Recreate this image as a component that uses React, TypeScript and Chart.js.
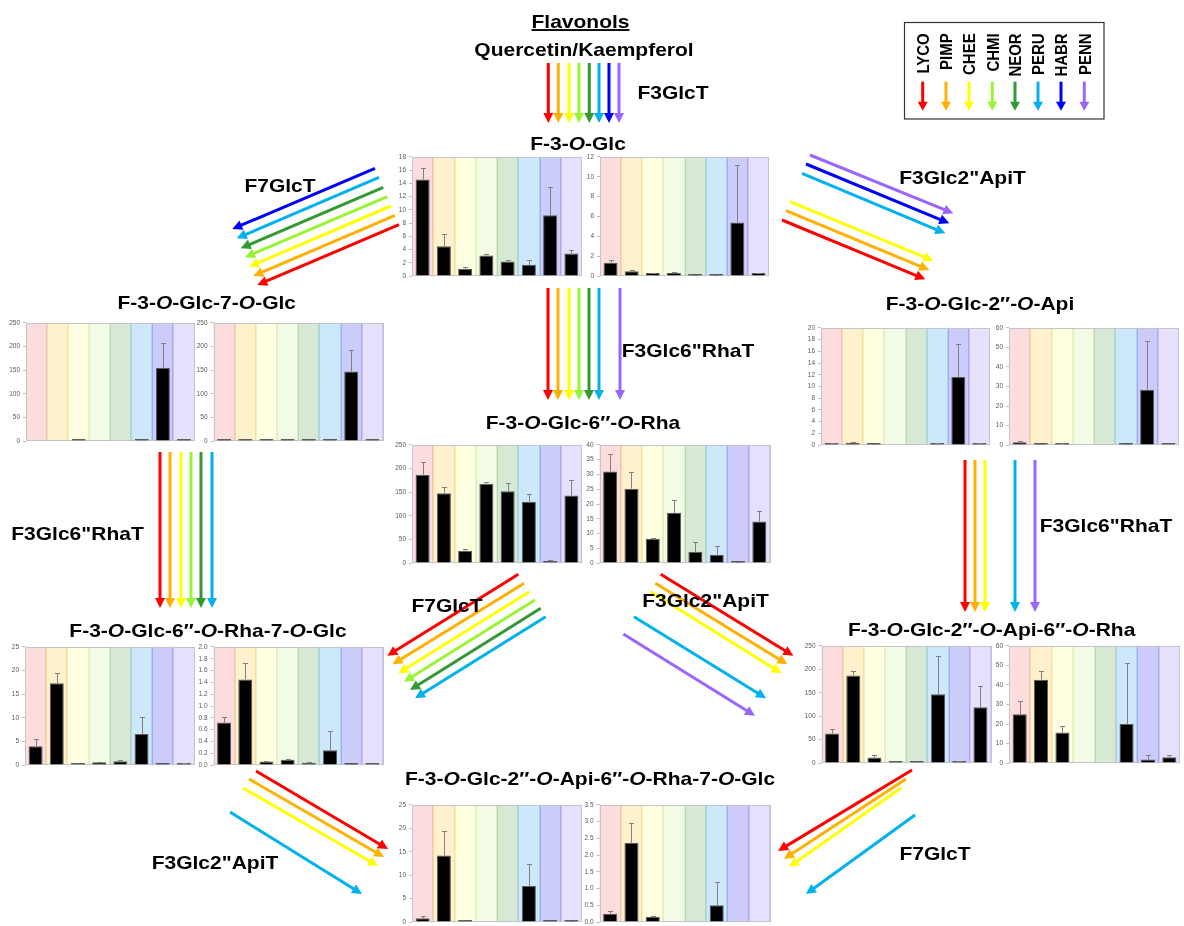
import React, { useEffect, useRef } from "react";
import { Chart, registerables } from "chart.js";
Chart.register(...registerables);

// ---------- data ----------
const strains = ["LYCO", "PIMP", "CHEE", "CHMI", "NEOR", "PERU", "HABR", "PENN"];

const glcA = [14.6, 4.5, 1.1, 3.1, 2.2, 1.7, 9.2, 3.4];
const glcASd = [1.7, 1.8, 0.2, 0.3, 0.3, 0.8, 4.2, 0.5];
const glcB = [1.35, 0.5, 0.3, 0.3, 0.1, 0.05, 5.4, 0.3];
const glcBSd = [0.3, 0.08, 0.06, 0.07, 0.02, 0.03, 5.8, 0.06];

const glc7A = [0, 0, 1, 0, 0, 1, 155, 1];
const glc7ASd = [0, 0, 0, 0, 0, 0, 52, 0];
const glc7B = [1, 1, 1, 1, 1, 1, 147, 1];
const glc7BSd = [0, 0, 0, 0, 0, 0, 46, 0];

const apiA = [0.25, 0.4, 0.1, 0, 0, 0.25, 11.6, 0.25];
const apiASd = [0.05, 0.05, 0.05, 0, 0, 0.15, 5.7, 0.05];
const apiB = [1.5, 0.6, 0.9, 0, 0, 0.3, 28.3, 0.1];
const apiBSd = [0.5, 0.1, 0.2, 0, 0, 0.3, 25.2, 0];

const rhaA = [187, 148, 26, 168, 152, 130, 4, 143];
const rhaASd = [27, 12, 3, 4, 18, 17, 1.5, 33];
const rhaB = [31, 25.2, 8.2, 17, 3.8, 2.8, 0.3, 14.1];
const rhaBSd = [5.8, 5.6, 0.3, 4.2, 3.4, 3.0, 0.1, 3.6];

const rha7A = [4, 17.3, 0.2, 0.6, 0.8, 6.6, 0.1, 0.4];
const rha7ASd = [1.6, 2.1, 0, 0.1, 0.2, 3.5, 0, 0.1];
const rha7B = [0.72, 1.45, 0.06, 0.09, 0.04, 0.25, 0.01, 0.01];
const rha7BSd = [0.1, 0.27, 0.01, 0.01, 0.005, 0.32, 0.01, 0];

const apiRhaA = [63, 187, 12, 0.5, 0.5, 147, 2, 119];
const apiRhaASd = [9, 10, 6, 0, 0, 81, 2, 46];
const apiRhaB = [25, 42.7, 15.7, 0, 0, 20, 1.8, 3];
const apiRhaBSd = [7, 4.6, 3.1, 0, 0, 31, 2.2, 1.3];

const fullA = [0.8, 14.2, 0.2, 0, 0, 7.7, 0.05, 0.15];
const fullASd = [0.4, 5.2, 0, 0, 0, 4.7, 0, 0.05];
const fullB = [0.25, 2.37, 0.15, 0, 0, 0.5, 0, 0];
const fullBSd = [0.07, 0.6, 0.02, 0, 0, 0.69, 0, 0];

// y-axis tick settings: [max, step, decimals]
const axisGlcA = [18, 2, 0];
const axisGlcB = [12, 2, 0];
const axisGlc7 = [250, 50, 0];
const axisApiA = [20, 2, 0];
const axisApiB = [60, 10, 0];
const axisRhaA = [250, 50, 0];
const axisRhaB = [40, 5, 0];
const axisRha7A = [25, 5, 0];
const axisRha7B = [2, 0.2, 1];
const axisApiRhaA = [250, 50, 0];
const axisApiRhaB = [60, 10, 0];
const axisFullA = [25, 5, 0];
const axisFullB = [3.5, 0.5, 1];

// ---------- styles ----------
const bandColors = ["#FCDCDC", "#FEF1CB", "#FFFFE1", "#F1FBE6", "#D7E9D5", "#CDE8FB", "#CCCCFA", "#E7E0FD"];
const bandEdges = ["#F4C2C2", "#F8DE9A", "#F0F0C0", "#DCF0C6", "#B8D6B5", "#A8D6F3", "#A8A8F0", "#CFC2F7"];
const arrowColors = ["#FF0000", "#FFB000", "#FFFF00", "#99F533", "#339933", "#00B0F0", "#0000FF", "#9966FF"];
const FONT = '"Liberation Sans", Arial, Helvetica, sans-serif';

const AXIS_W = 24;
const PAD_T = 6;
const PAD_R = 2;
const PAD_B = 5;

const bandsPlugin = {
  id: "bands",
  beforeDatasetsDraw(chart: any) {
    const { ctx, chartArea: a, scales } = chart;
    const x = scales.x;
    const half = (x.getPixelForValue(1) - x.getPixelForValue(0)) / 2;
    ctx.save();
    strains.forEach((_, i) => {
      const c = x.getPixelForValue(i);
      ctx.fillStyle = bandColors[i];
      ctx.fillRect(c - half, a.top, half * 2, a.bottom - a.top);
    });
    ctx.lineWidth = 1;
    strains.forEach((_, i) => {
      const c = x.getPixelForValue(i);
      ctx.strokeStyle = bandEdges[i];
      ctx.beginPath();
      ctx.moveTo(Math.round(c - half) + 0.5, a.top);
      ctx.lineTo(Math.round(c - half) + 0.5, a.bottom);
      ctx.moveTo(Math.round(c + half) - 0.5, a.top);
      ctx.lineTo(Math.round(c + half) - 0.5, a.bottom);
      ctx.stroke();
    });
    ctx.strokeStyle = "#C4C4CC";
    ctx.strokeRect(Math.round(a.left) + 0.5, Math.round(a.top) + 0.5, Math.round(a.right - a.left) - 1, Math.round(a.bottom - a.top) - 1);
    ctx.restore();
  },
};

const errorBarPlugin = {
  id: "errorBars",
  afterDatasetsDraw(chart: any, _args: any, opts: any) {
    const sd: number[] = opts.sd || [];
    const meta = chart.getDatasetMeta(0);
    const data = chart.data.datasets[0].data;
    const y = chart.scales.y;
    const ctx = chart.ctx;
    ctx.save();
    ctx.strokeStyle = "#808080";
    ctx.lineWidth = 1;
    meta.data.forEach((bar: any, i: number) => {
      const v = data[i];
      const e = sd[i];
      if (v == null || !e) return;
      const px = Math.round(bar.x) + 0.5;
      const yTop = Math.round(y.getPixelForValue(v + e)) + 0.5;
      const yBar = y.getPixelForValue(v);
      ctx.beginPath();
      ctx.moveTo(px, yBar);
      ctx.lineTo(px, yTop);
      ctx.moveTo(px - 2.5, yTop);
      ctx.lineTo(px + 2.5, yTop);
      ctx.stroke();
    });
    ctx.restore();
  },
};

type MiniProps = { plot: number[]; values: number[]; sd: number[]; axis: number[] };

function MiniChart({ plot, values, sd, axis }: MiniProps) {
  const ref = useRef<HTMLCanvasElement>(null);
  const [l, t, r, b] = plot;
  const cl = Math.round(l - AXIS_W);
  const ct = Math.round(t - PAD_T);
  const cw = Math.round(r + PAD_R) - cl;
  const ch = Math.round(b + PAD_B) - ct;
  const [max, step, dec] = axis;
  useEffect(() => {
    const chart = new Chart(ref.current as HTMLCanvasElement, {
      type: "bar",
      data: {
        labels: strains,
        datasets: [
          {
            data: values.map((v) => (v === 0 ? null : v)),
            backgroundColor: "#000000",
            borderColor: "#5A5A5A",
            borderWidth: 1,
            barPercentage: 0.66,
            categoryPercentage: 1,
            minBarLength: 2,
          },
        ],
      },
      options: {
        responsive: false,
        animation: false,
        layout: { padding: { left: l - cl - AXIS_W, top: t - ct, right: cl + cw - r, bottom: ct + ch - b } },
        plugins: {
          legend: { display: false },
          tooltip: { enabled: false },
          errorBars: { sd },
        } as any,
        scales: {
          x: { display: false, offset: true },
          y: {
            min: 0,
            max,
            afterFit: (s: any) => {
              s.width = AXIS_W;
            },
            ticks: {
              stepSize: step,
              autoSkip: false,
              color: "#595959",
              padding: 3,
              font: { size: 6.5, family: FONT },
              callback: (v: any) => Number(v).toFixed(dec),
            },
            grid: { drawOnChartArea: false, drawTicks: true, tickLength: 3, color: "#BFBFBF" },
            border: { display: false },
          },
        },
      } as any,
      plugins: [bandsPlugin, errorBarPlugin],
    });
    return () => chart.destroy();
  }, []);
  return (
    <canvas
      ref={ref}
      width={cw}
      height={ch}
      style={{ position: "absolute", left: cl, top: ct, width: cw, height: ch }}
    />
  );
}

// plot areas [left, top, right, bottom]
const charts: MiniProps[] = [
  { plot: [412, 156, 582, 278], values: glcA, sd: glcASd, axis: axisGlcA },
  { plot: [600, 156, 769, 278], values: glcB, sd: glcBSd, axis: axisGlcB },
  { plot: [26, 322, 194.5, 443], values: glc7A, sd: glc7ASd, axis: axisGlc7 },
  { plot: [213.5, 322, 383, 443], values: glc7B, sd: glc7BSd, axis: axisGlc7 },
  { plot: [821, 327, 990, 447], values: apiA, sd: apiASd, axis: axisApiA },
  { plot: [1009, 327, 1179, 447], values: apiB, sd: apiBSd, axis: axisApiB },
  { plot: [412, 444, 582, 565], values: rhaA, sd: rhaASd, axis: axisRhaA },
  { plot: [599.5, 444, 770, 565], values: rhaB, sd: rhaBSd, axis: axisRhaB },
  { plot: [25, 646, 194.5, 767], values: rha7A, sd: rha7ASd, axis: axisRha7A },
  { plot: [213.5, 646, 383, 767], values: rha7B, sd: rha7BSd, axis: axisRha7B },
  { plot: [821.5, 644.5, 991, 765], values: apiRhaA, sd: apiRhaASd, axis: axisApiRhaA },
  { plot: [1009, 644.5, 1180, 765], values: apiRhaB, sd: apiRhaBSd, axis: axisApiRhaB },
  { plot: [412, 803.5, 582, 923.5], values: fullA, sd: fullASd, axis: axisFullA },
  { plot: [599.5, 803.5, 770, 923.5], values: fullB, sd: fullBSd, axis: axisFullB },
];

// arrows: [x1, y1, x2(tip), y2(tip), colorIndex]
const arrows: number[][] = [
  // F3GlcT
  [548.3, 63, 548.3, 123, 0], [558.3, 63, 558.3, 123, 1], [569, 63, 569, 123, 2], [579, 63, 579, 123, 3],
  [589.3, 63, 589.3, 123, 4], [599, 63, 599, 123, 5], [609, 63, 609, 123, 6], [619, 63, 619, 123, 7],
  // F7GlcT top-left
  [375, 168.3, 232.3, 229, 6], [379, 177.3, 236.7, 238.3, 5], [383.3, 187.3, 240.7, 248.3, 4],
  [387.3, 196.7, 245, 257.3, 3], [391, 206, 249, 266.7, 2], [395, 215.3, 253.3, 276, 1], [399, 224.7, 257.3, 285, 0],
  // F3Glc2"ApiT top-right
  [810, 155, 953.3, 213.3, 7], [806, 164, 949.3, 223.3, 6], [802, 173.3, 945.3, 233.3, 5],
  [790, 201.7, 933.3, 260.7, 2], [786, 210.7, 929.3, 270, 1], [782, 220, 925.3, 279.3, 0],
  // F3Glc6"RhaT middle
  [548, 288, 548, 400, 0], [558, 288, 558, 400, 1], [569, 288, 569, 400, 2], [579, 288, 579, 400, 3],
  [589, 288, 589, 400, 4], [599, 288, 599, 400, 5], [620, 288, 620, 400, 7],
  // F3Glc6"RhaT left
  [160, 452, 160, 608, 0], [170, 452, 170, 608, 1], [181, 452, 181, 608, 2], [191, 452, 191, 608, 3],
  [201, 452, 201, 608, 4], [212, 452, 212, 608, 5],
  // F3Glc6"RhaT right
  [965, 460, 965, 612, 0], [975, 460, 975, 612, 1], [985, 460, 985, 612, 2], [1015, 460, 1015, 612, 5], [1035, 460, 1035, 612, 7],
  // F7GlcT middle
  [518.3, 574.3, 387.3, 655.7, 0], [524, 583.3, 392.7, 664.3, 1], [529.3, 591.7, 398.3, 673.3, 2],
  [535, 600, 404, 681.7, 3], [540.7, 608.3, 410, 690, 4], [545.7, 616.7, 415, 698.3, 5],
  // F3Glc2"ApiT middle
  [660.7, 574.3, 793.3, 655.7, 0], [655.3, 583.3, 787.3, 664.3, 1], [650.7, 591.7, 781.7, 673.3, 2],
  [634, 616.7, 766, 698.3, 5], [623.3, 634, 755, 715.7, 7],
  // F3Glc2"ApiT bottom-left
  [256, 771, 388, 849, 0], [249, 779, 384, 857, 1], [243, 788, 378, 866, 2], [230, 812, 362, 894, 5],
  // F7GlcT bottom-right
  [912, 770, 778, 851, 0], [906, 779, 784, 859, 1], [901, 788, 789, 867, 2], [915, 815, 806, 894, 5],
];

const legendX = [922.7, 946, 969, 992.3, 1015, 1038, 1061, 1084.3];

function Arrow({ a, w = 3, hl = 10, hw = 5 }: { a: number[]; w?: number; hl?: number; hw?: number }) {
  const [x1, y1, x2, y2, ci] = a;
  const color = arrowColors[ci];
  const dx = x2 - x1;
  const dy = y2 - y1;
  const L = Math.hypot(dx, dy);
  const ux = dx / L;
  const uy = dy / L;
  const bx = x2 - ux * hl;
  const by = y2 - uy * hl;
  const px = -uy;
  const py = ux;
  return (
    <g>
      <line x1={x1} y1={y1} x2={bx + ux} y2={by + uy} stroke={color} strokeWidth={w} />
      <polygon points={`${x2},${y2} ${bx + px * hw},${by + py * hw} ${bx - px * hw},${by - py * hw}`} fill={color} />
    </g>
  );
}

const SIZE = 18.6;
const SX = 1.13;

function T({ x, y, children, underline }: { x: number; y: number; children: any; underline?: boolean }) {
  const base = y + (SIZE * 0.716) / 2;
  return (
    <text
      transform={`translate(${x},${base}) scale(${SX},1)`}
      textAnchor="middle"
      fontSize={SIZE}
      fontWeight="bold"
      fontFamily={FONT}
      fill="#000"
      style={underline ? { textDecoration: "underline" } : undefined}
    >
      {children}
    </text>
  );
}

const I = ({ c }: { c: string }) => <tspan fontStyle="italic">{c}</tspan>;

export default function App() {
  return (
    <div
      style={{
        position: "absolute",
        left: 0,
        top: 0,
        width: 1184,
        height: 926,
        background: "#fff",
        overflow: "hidden",
        fontFamily: FONT,
      }}
    >
      {charts.map((c, i) => (
        <MiniChart key={i} {...c} />
      ))}
      <svg width={1184} height={926} style={{ position: "absolute", left: 0, top: 0, pointerEvents: "none" }}>
        {arrows.map((a, i) => (
          <Arrow key={i} a={a} />
        ))}
        {/* legend */}
        <rect x={904.5} y={22.5} width={199.5} height={96.5} fill="none" stroke="#333" strokeWidth={1.2} />
        {strains.map((s, i) => (
          <g key={s}>
            <text
              transform={`translate(${legendX[i]},33.3) scale(1.16,1) rotate(-90)`}
              x={0}
              y={5.4}
              textAnchor="end"
              fontSize={15}
              fontWeight="bold"
              fontFamily={FONT}
              fill="#000"
            >
              {s}
            </text>
            <Arrow a={[legendX[i], 81.7, legendX[i], 110.7, i]} hl={9} hw={5} />
          </g>
        ))}
        <T x={580.5} y={21.5} underline>
          Flavonols
        </T>
        <T x={584} y={49}>Quercetin/Kaempferol</T>
        <T x={673} y={92}>F3GlcT</T>
        <T x={578} y={143.5}>
          F-3-<I c="O" />-Glc
        </T>
        <T x={280} y={185.5}>F7GlcT</T>
        <T x={962.5} y={177.5}>F3Glc2"ApiT</T>
        <T x={206.7} y={302.5}>
          F-3-<I c="O" />-Glc-7-<I c="O" />-Glc
        </T>
        <T x={980} y={303.7}>
          F-3-<I c="O" />-Glc-2″-<I c="O" />-Api
        </T>
        <T x={688} y={350}>F3Glc6"RhaT</T>
        <T x={583} y={422}>
          F-3-<I c="O" />-Glc-6″-<I c="O" />-Rha
        </T>
        <T x={77.5} y={533}>F3Glc6"RhaT</T>
        <T x={1106} y={525}>F3Glc6"RhaT</T>
        <T x={447} y={605}>F7GlcT</T>
        <T x={705.5} y={600.5}>F3Glc2"ApiT</T>
        <T x={208} y={630}>
          F-3-<I c="O" />-Glc-6″-<I c="O" />-Rha-7-<I c="O" />-Glc
        </T>
        <T x={991.7} y={629.7}>
          F-3-<I c="O" />-Glc-2″-<I c="O" />-Api-6″-<I c="O" />-Rha
        </T>
        <T x={590} y={778}>
          F-3-<I c="O" />-Glc-2″-<I c="O" />-Api-6″-<I c="O" />-Rha-7-<I c="O" />-Glc
        </T>
        <T x={215} y={862}>F3Glc2"ApiT</T>
        <T x={935} y={853}>F7GlcT</T>
      </svg>
    </div>
  );
}
